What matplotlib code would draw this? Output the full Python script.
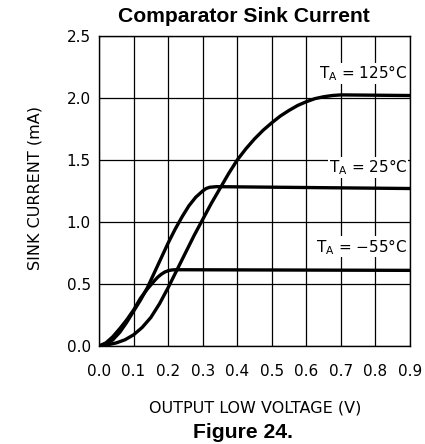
import matplotlib
matplotlib.use('Agg')
import matplotlib.pyplot as plt

# curves (V, mA)
v_125 = [0, .025, .05, .075, .1, .125, .15, .175, .2, .225, .25, .275, .3, .325, .35, .375,
         .4, .425, .45, .475, .5, .525, .55, .575, .6, .625, .65, .675, .7, .9]
i_125 = [0, .01, .025, .05, .09, .15, .23, .34, .47, .61, .75, .89, 1.02, 1.15, 1.27, 1.39,
         1.5, 1.59, 1.67, 1.74, 1.8, 1.855, 1.9, 1.94, 1.97, 1.995, 2.01, 2.02, 2.025, 2.02]

v_25 = [0, .02, .04, .06, .08, .1, .12, .14, .16, .18, .2, .22, .24, .26, .28, .3, .31, .32,
        .34, .9]
i_25 = [0, .015, .05, .11, .19, .28, .37, .47, .59, .71, .83, .94, 1.04, 1.13, 1.2, 1.25,
        1.27, 1.28, 1.285, 1.27]

v_m55 = [0, .02, .04, .06, .08, .1, .12, .14, .16, .17, .18, .19, .2, .21, .22, .24, .9]
i_m55 = [0, .025, .075, .14, .21, .29, .385, .46, .525, .555, .578, .596, .607, .613, .615,
         .615, .61]

labels = [r'T$_\mathregular{A}$ = 125°C', r'T$_\mathregular{A}$ = 25°C', r'T$_\mathregular{A}$ = $-$55°C']
label_y = [2.2, 1.44, 0.8]

xticks = [0.0, 0.1, 0.2, 0.3, 0.4, 0.5, 0.6, 0.7, 0.8, 0.9]
yticks = [0.0, 0.5, 1.0, 1.5, 2.0, 2.5]

fig = plt.figure(figsize=(4.25, 4.44), dpi=100)
ax = fig.add_axes([99 / 425, 1 - 346 / 444, 311 / 425, 310 / 444])

for v in xticks:
    ax.axvline(v, color='black', lw=0.9, zorder=1)
for y in yticks:
    ax.axhline(y, color='black', lw=0.9, zorder=1)

for v, i in [(v_125, i_125), (v_25, i_25), (v_m55, i_m55)]:
    ax.plot(v, i, color='black', lw=2.4, solid_capstyle='round', solid_joinstyle='round', zorder=3)

for lab, y in zip(labels, label_y):
    ax.text(0.893, y, lab, ha='right', va='center', fontsize=11,
            bbox=dict(facecolor='white', edgecolor='none', pad=0.5), zorder=2)

ax.set_xlim(0, 0.9)
ax.set_ylim(0, 2.5)
ax.set_xticks(xticks)
ax.set_yticks(yticks)
ax.set_xticklabels(['%.1f' % x for x in xticks])
ax.set_yticklabels(['%.1f' % y for y in yticks])
ax.tick_params(length=0, labelsize=11)
ax.tick_params(axis='x', pad=13)
ax.tick_params(axis='y', pad=6)
for s in ax.spines.values():
    s.set_linewidth(1.0)

fig.text(244 / 425, 1 - 17 / 444, 'Comparator Sink Current', ha='center', va='center',
         fontsize=15.2, fontweight='bold', family='Liberation Sans')
fig.text(35 / 425, 1 - 188 / 444, 'SINK CURRENT (mA)', rotation=90, ha='center', va='center', fontsize=11.5)
fig.text(255 / 425, 1 - 408 / 444, 'OUTPUT LOW VOLTAGE (V)', ha='center', va='center', fontsize=11.5)
fig.text(243 / 425, 1 - 432 / 444, 'Figure 24.', ha='center', va='center',
         fontsize=15.2, fontweight='bold', family='Liberation Sans')

fig.savefig('out.png', dpi=100)
